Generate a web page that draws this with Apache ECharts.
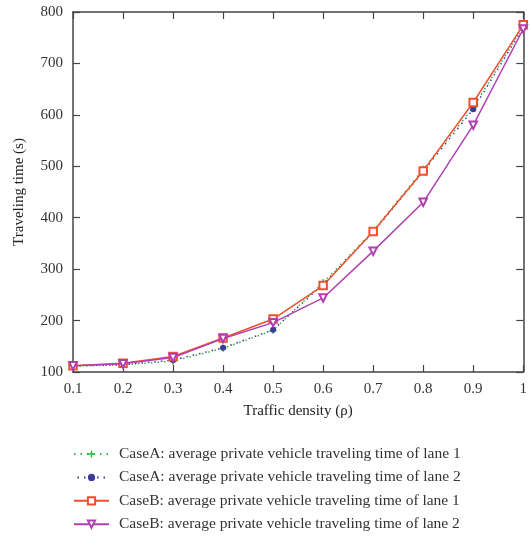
<!DOCTYPE html>
<html><head><meta charset="utf-8">
<script src="https://cdn.jsdelivr.net/npm/echarts@6/dist/echarts.min.js"></script>
<style>html,body{margin:0;padding:0;background:#fff}#c{width:530px;height:537px}</style>
</head><body><div id="c"></div>
<script>
const densities = [0.1,0.2,0.3,0.4,0.5,0.6,0.7,0.8,0.9,1.0];
const caseALane1 = [111,114,121,146,181,274,374,494,614,772];
const caseALane2 = [112,114,123,147,182,271,372,490,611,770];
const caseBLane1 = [112,117,130,166,203,268,373,491,624,775];
const caseBLane2 = [112,116,128,165,196,244,335,430,580,767];
const seriesNames = [
  'CaseA: average private vehicle traveling time of lane 1',
  'CaseA: average private vehicle traveling time of lane 2',
  'CaseB: average private vehicle traveling time of lane 1',
  'CaseB: average private vehicle traveling time of lane 2'
];
const xTicks = [0.1,0.2,0.3,0.4,0.5,0.6,0.7,0.8,0.9,1];
const yTicks = [100,200,300,400,500,600,700,800];

const font = 'Liberation Serif';
const axisColor = '#444';
const pair = a => densities.map((x,i)=>[x,a[i]]);
const plus = 'path://M4,0H6V4H10V6H6V10H4V6H0V4H4Z';

const chart = echarts.init(document.getElementById('c'));
const xBase = {
  type:'value', min:0.1, max:1, interval:0.1,
  axisLine:{show:true,lineStyle:{color:axisColor,width:1.5}},
  axisTick:{show:true,inside:true,length:7,lineStyle:{color:axisColor,width:1.2}},
  splitLine:{show:false}
};
const yBase = {
  type:'value', min:100, max:800, interval:100,
  axisLine:{show:true,lineStyle:{color:axisColor,width:1.5}},
  axisTick:{show:true,inside:true,length:7,lineStyle:{color:axisColor,width:1.2}},
  splitLine:{show:false}
};
chart.setOption({
  animation:false,
  textStyle:{fontFamily:font},
  grid:{left:73,top:12,width:458,height:360,containLabel:false},
  xAxis:[
    Object.assign({}, xBase, {position:'bottom',
      name:'Traffic density (ρ)', nameLocation:'middle', nameGap:32,
      nameTextStyle:{fontFamily:font,fontSize:15,color:'#222'},
      axisLabel:{fontFamily:font,fontSize:15,color:'#333',margin:10,
        formatter:v=>{const t=xTicks.find(k=>Math.abs(k-v)<1e-6);return t===undefined?'':String(t);}}}),
    Object.assign({}, xBase, {position:'top', axisLabel:{show:false}})
  ],
  yAxis:[
    Object.assign({}, yBase, {position:'left',
      name:'Traveling time (s)', nameLocation:'middle', nameGap:46,
      nameTextStyle:{fontFamily:font,fontSize:15,color:'#222'},
      axisLabel:{fontFamily:font,fontSize:15,color:'#333',margin:10,
        formatter:v=>yTicks.includes(v)?String(v):''}}),
    Object.assign({}, yBase, {position:'right', axisLabel:{show:false}})
  ],
  legend:{
    orient:'vertical', left:68, top:446, padding:[0,5], itemGap:7.4, itemWidth:35, itemHeight:9,
    textStyle:{fontFamily:font,fontSize:15.5,color:'#333',padding:[0,0,0,5]},
    data:seriesNames
  },
  series:[
    {name:seriesNames[0], type:'line', data:pair(caseALane1), symbol:plus, symbolSize:7,
     itemStyle:{color:'#2fb83a'}, lineStyle:{color:'#2fb83a',type:[1.5,5],width:1.5}, z:2},
    {name:seriesNames[1], type:'line', data:pair(caseALane2), symbol:'circle', symbolSize:6,
     itemStyle:{color:'#3b3b9b'}, lineStyle:{color:'#3b3b9b',type:[1.5,5],width:1.5,dashOffset:3}, z:3},
    {name:seriesNames[2], type:'line', data:pair(caseBLane1), symbol:'emptyRect', symbolSize:7.5,
     itemStyle:{color:'#f0502e',borderWidth:1.3}, lineStyle:{color:'#f0502e',width:1.5}, z:4},
    {name:seriesNames[3], type:'line', data:pair(caseBLane2), symbol:'emptyTriangle', symbolSize:7.5, symbolRotate:180,
     itemStyle:{color:'#b23fb2',borderWidth:1.3}, lineStyle:{color:'#b23fb2',width:1.5}, z:5}
  ]
});
</script></body></html>
